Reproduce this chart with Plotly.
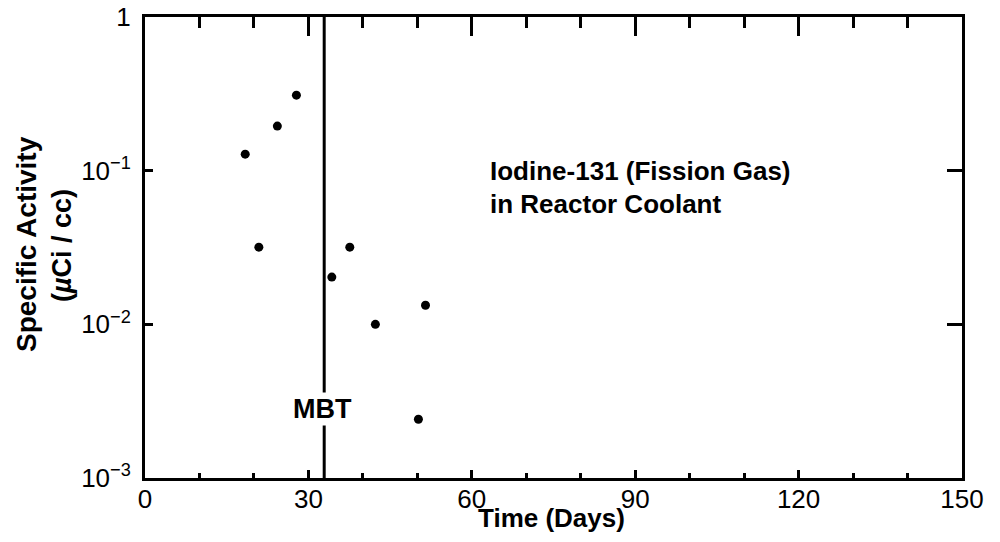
import plotly.graph_objects as go

# ---- data ----
days = [18.4, 20.9, 24.3, 27.8, 34.3, 37.6, 42.3, 50.2, 51.5]
activity = [0.128, 0.0318, 0.195, 0.310, 0.0203, 0.0318, 0.0100, 0.00241, 0.0133]
mbt_day = 32.9
x_ticks = [0, 30, 60, 90, 120, 150]
y_ticks = [0.001, 0.01, 0.1, 1]
y_ticktext = ["10<sup>\u22123</sup>", "10<sup>\u22122</sup>", "10<sup>\u22121</sup>", "1"]

# page body has an 8px margin, so the figure is drawn 8px in from the corner
OFF = 8
W, H = 1000 - OFF, 542 - OFF
L, R, T, B = 145, 962, 17, 478          # plot box in screen pixels
FONT = "Liberation Sans, Arial, Helvetica, sans-serif"


def px(xp):
    return (xp - L) / (R - L)


def py(yp):
    return (B - yp) / (B - T)


fig = go.Figure()
fig.add_trace(go.Scatter(x=days, y=activity, mode="markers",
                         marker=dict(color="black", size=9), showlegend=False,
                         hoverinfo="skip"))
fig.add_trace(go.Scatter(x=[mbt_day, mbt_day], y=[0.001, 1], mode="lines",
                         line=dict(color="black", width=3), showlegend=False,
                         xaxis="x2", yaxis="y2", hoverinfo="skip"))

axis_common = dict(showgrid=False, zeroline=False, showline=True, linecolor="black",
                   linewidth=3, tickcolor="black", ticks="inside", automargin=False,
                   ticklabeloverflow="allow")

fig.update_layout(
    template="none",
    width=W, height=H, autosize=False,
    margin=dict(l=L - OFF, r=W - (R - OFF), t=T - OFF, b=H - (B - OFF), pad=0),
    paper_bgcolor="white", plot_bgcolor="white",
    font=dict(family=FONT, color="black", size=26),
    xaxis=dict(range=[0, 150], tickvals=x_ticks, ticklen=8, tickwidth=3,
               minor=dict(ticks="inside", ticklen=5, tickwidth=2.5, tickcolor="black",
                          tick0=0, dtick=10),
               tickfont=dict(size=26), ticklabelstandoff=-4, **axis_common),
    xaxis2=dict(range=[0, 150], overlaying="x", side="top", tickvals=x_ticks,
                ticklen=19, tickwidth=3, showticklabels=False,
                minor=dict(ticks="inside", ticklen=11, tickwidth=2.5, tickcolor="black",
                           tick0=0, dtick=10),
                **axis_common),
    yaxis=dict(type="log", range=[-3, 0], tickvals=y_ticks, ticktext=y_ticktext,
               ticklen=8, tickwidth=3, tickfont=dict(size=26), ticklabelstandoff=6,
               **axis_common),
    yaxis2=dict(type="log", range=[-3, 0], overlaying="y", side="right",
                tickvals=y_ticks, ticklen=15, tickwidth=3, showticklabels=False,
                **axis_common),
)

ann = [
    dict(text="<b>Iodine-131 (Fission Gas)</b>", x=px(488), y=py(171), xanchor="left",
         yanchor="middle", font=dict(size=26)),
    dict(text="<b>in Reactor Coolant</b>", x=px(488), y=py(204), xanchor="left",
         yanchor="middle", font=dict(size=26)),
    dict(text="<b>MBT</b>", x=px(322.5), y=py(409), xanchor="center", yanchor="middle",
         bgcolor="white", font=dict(size=27)),
    dict(text="<b>Time (Days)</b>", x=px(551), y=py(518), xanchor="center",
         yanchor="middle", font=dict(size=26)),
    dict(text="<b>Specific Activity</b>", x=px(26), y=py(244), xanchor="center",
         yanchor="middle", textangle=-90, font=dict(size=28)),
    dict(text="<b>(<i>\u00b5</i>Ci / cc)</b>", x=px(62), y=py(246), xanchor="center",
         yanchor="middle", textangle=-90, font=dict(size=27)),
]
for a in ann:
    a.update(xref="paper", yref="paper", showarrow=False)
fig.update_layout(annotations=ann)

fig.write_html("out.html")
